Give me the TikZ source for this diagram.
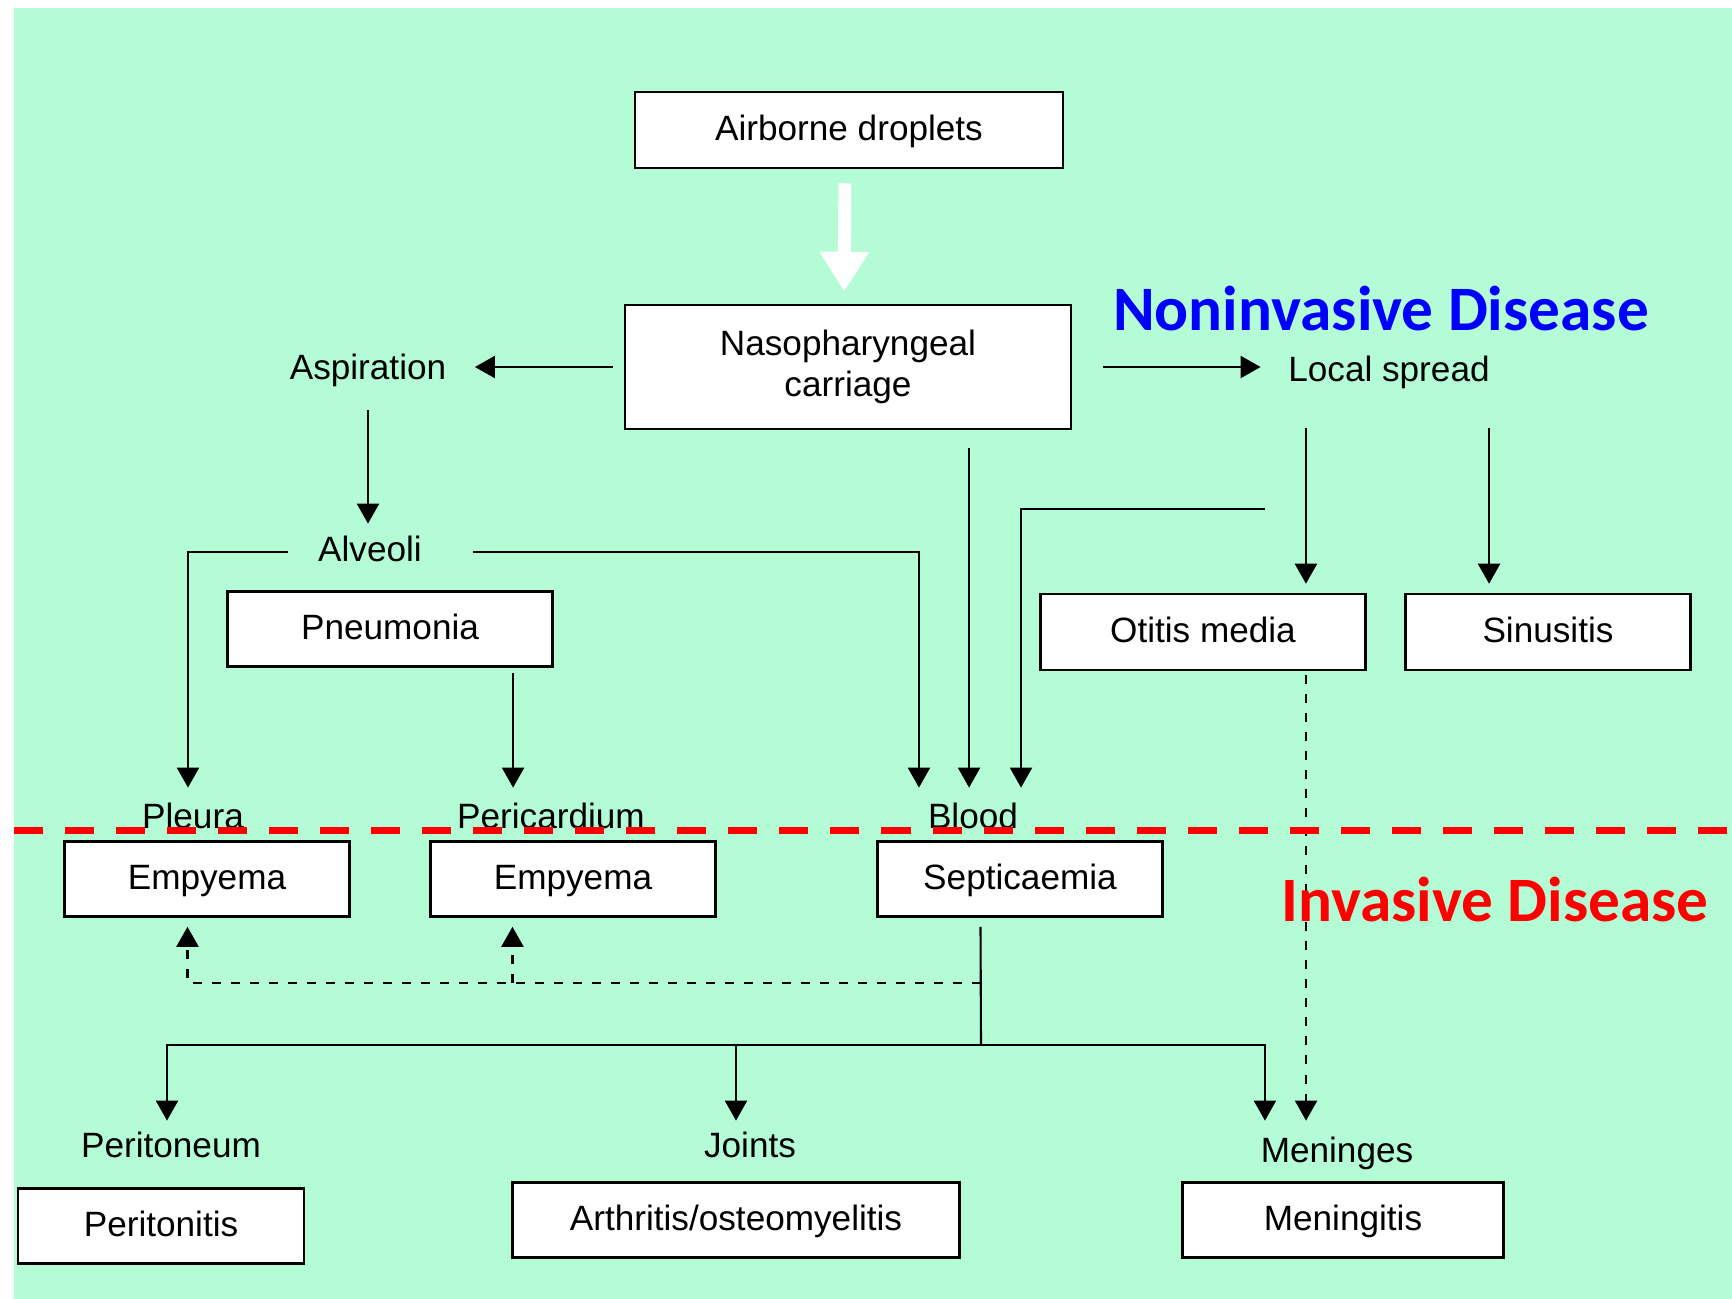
\documentclass[tikz,border=0pt]{standalone}
\usepackage{fontspec}
\setmainfont{Liberation Sans}
\newfontfamily\headfont{Carlito}
\usetikzlibrary{arrows.meta}
\definecolor{pbg}{HTML}{B3FCD6}
\definecolor{pblue}{HTML}{0000FF}
\definecolor{pred}{HTML}{FF0000}

\begin{document}
\begin{tikzpicture}[x=0.01cm, y=-0.01cm,
  box/.style={draw=black, fill=white, line width=0.7pt, inner sep=0pt,
    font=\fontsize{10}{11.5}\selectfont, align=center, minimum height=0.75cm,
    text height=7.3pt, text depth=1.5pt},
  lbl/.style={inner sep=0pt, font=\fontsize{10}{11.5}\selectfont,
    text height=7.3pt, text depth=2.1pt, anchor=base},
  arr/.style={line width=0.6pt, -{Triangle[length=0.2cm, width=0.22cm]}},
  darr/.style={arr, dash pattern=on 0.09cm off 0.1cm},
  head/.style={font=\headfont\fontsize{18}{20}\selectfont\bfseries}]
\useasboundingbox (0,0) rectangle (1732,1299);
\fill[pbg] (14,8) rectangle (1732,1299);

% boxes
\node[box, minimum width=4.28cm, minimum height=0.76cm] (drop) at (849,130) {Airborne droplets};
\node[draw=black, fill=white, line width=0.7pt, inner sep=0pt, align=center,
  font=\fontsize{10}{11.5}\selectfont, minimum width=4.46cm, minimum height=1.24cm]
  (naso) at (848,367) {Nasopharyngeal\\carriage};
\node[box, minimum width=3.25cm] (pneu) at (390,629) {Pneumonia};
\node[box, minimum width=3.25cm, minimum height=0.76cm] (otitis) at (1203,632) {Otitis media};
\node[box, minimum width=2.85cm, minimum height=0.76cm] (sinus) at (1548,632) {Sinusitis};
\node[box, minimum width=2.85cm] (empa) at (207,879) {Empyema};
\node[box, minimum width=2.85cm] (empb) at (573,879) {Empyema};
\node[box, minimum width=2.85cm] (sept) at (1020,879) {Septicaemia};
\node[box, minimum width=2.86cm] (perit) at (161,1226) {Peritonitis};
\node[box, minimum width=4.47cm] (arth) at (736,1220) {Arthritis/osteomyelitis};
\node[box, minimum width=3.21cm] (menin) at (1343,1220) {Meningitis};

% site labels
\node[lbl] (asp) at (368,379) {Aspiration};
\node[lbl] (spread) at (1389,381) {Local spread};
\node[lbl] (alv) at (370,561) {Alveoli};
\node[lbl] (pleura) at (193,828) {Pleura};
\node[lbl] (peric) at (551,828) {Pericardium};
\node[lbl] (blood) at (973,828) {Blood};
\node[lbl] (periton) at (171,1157) {Peritoneum};
\node[lbl] (joints) at (750,1157) {Joints};
\node[lbl] (mening) at (1337,1162) {Meninges};

% entry
\draw[white, line width=0.13cm, -{Triangle[length=0.4cm, width=0.47cm]},
  shorten <=0.14cm, shorten >=0.12cm] ([xshift=-0.04cm]drop.south) -- ([xshift=-0.04cm]naso.north);
\draw[arr, shorten <=0.11cm, shorten >=0.28cm] (naso.west) -- (naso.west -| asp.east);
\draw[arr, shorten <=0.31cm, shorten >=0.27cm] (naso.east) -- (naso.east -| spread.west);

% lower airway
\draw[arr, shorten <=0.23cm, shorten >=0.11cm] (asp.south) -- (asp.south |- alv.north);
\draw[arr, shorten <=0.29cm, shorten >=0.14cm] (alv.west) -| ([xshift=-0.05cm]pleura.north);
\draw[arr, shorten <=0.5cm, shorten >=0.14cm] (alv.east) -| ([xshift=-0.54cm]blood.north);
\draw[arr, shorten <=0.05cm, shorten >=0.14cm] ([xshift=1.23cm]pneu.south) -- ([xshift=1.23cm]pneu.south |- peric.north);
\draw[arr, shorten <=0.18cm, shorten >=0.14cm] ([xshift=1.21cm]naso.south) -- ([xshift=1.21cm]naso.south |- blood.north);

% local spread
\coordinate (spreadtap) at (1265,509);
\draw[arr, shorten >=0.14cm] (spreadtap) -| ([xshift=0.48cm]blood.north);
\draw[arr, shorten <=0.39cm, shorten >=0.09cm] ([xshift=-0.83cm]spread.south) -- ([xshift=-0.83cm]spread.south |- otitis.north);
\draw[arr, shorten <=0.39cm, shorten >=0.09cm] ([xshift=1cm]spread.south) -- ([xshift=1cm]spread.south |- sinus.north);
\draw[darr, shorten <=0.04cm, shorten >=0.15cm] ([xshift=1.03cm]otitis.south) -- ([xshift=1.03cm]otitis.south |- mening.north);

% spread from the blood
\coordinate (hub) at (981,1045);
\coordinate (dtap) at (981,983);
\draw[line width=0.6pt, shorten <=0.09cm] ([xshift=-0.395cm]sept.south) -- (hub);
\draw[arr, shorten >=0.1cm] (hub) -| ([xshift=-0.04cm]periton.north);
\draw[arr, shorten >=0.1cm] ([xshift=-0.14cm]joints.north |- hub) -- ([xshift=-0.14cm]joints.north);
\draw[arr, shorten >=0.15cm] (hub) -| ([xshift=-0.72cm]mening.north);
\draw[darr, shorten >=0.09cm] (dtap) -| ([xshift=-0.195cm]empa.south);
\draw[darr, shorten >=0.09cm] ([xshift=-0.605cm]empb.south |- dtap) -- ([xshift=-0.605cm]empb.south);

% disease boundary
\draw[pred, line width=0.07cm, dash pattern=on 0.29cm off 0.22cm] (14,830) -- (1732,830);
\node[head, text=pblue] (noninv) at (1381,309) {Noninvasive Disease};
\node[head, text=pred] (inv) at (1495,900) {Invasive Disease};
\end{tikzpicture}
\end{document}
